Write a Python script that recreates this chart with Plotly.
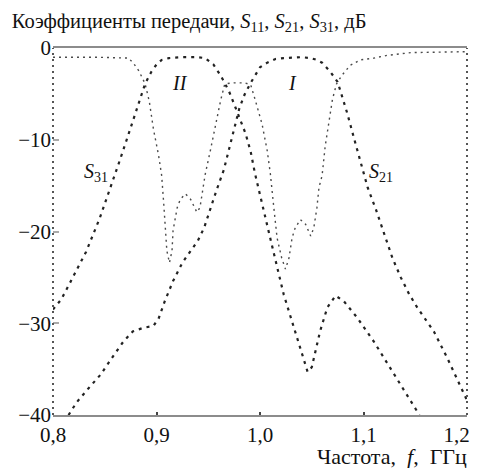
import plotly.graph_objects as go

# frequency (GHz) / level (dB)
s31_f = [0.800, 0.808, 0.815, 0.823, 0.832, 0.845, 0.855, 0.865, 0.875, 0.883,
         0.889, 0.895, 0.900, 0.905, 0.912, 0.925, 0.940, 0.947, 0.955, 0.962,
         0.966, 0.970, 0.976, 0.980, 0.986, 0.991, 0.995, 1.000, 1.007, 1.013,
         1.023, 1.033, 1.041, 1.046, 1.050, 1.058, 1.065, 1.073, 1.081, 1.094,
         1.110, 1.126, 1.142, 1.154]
s31_db = [-28.5, -27.4, -25.9, -24.2, -22.2, -18.6, -15.4, -12.1, -8.7, -5.9,
          -3.9, -2.6, -1.8, -1.3, -1.1, -1.0, -1.0, -1.1, -1.8, -3.0,
          -3.9, -4.7, -6.4, -7.6, -9.3, -11.3, -13.6, -16.0, -19.2, -22.2,
          -26.9, -30.5, -33.4, -35.3, -34.8, -30.9, -28.3, -27.0, -27.6, -29.4,
          -32.0, -34.9, -37.8, -40.0]

s21_f = [0.815, 0.823, 0.835, 0.846, 0.858, 0.868, 0.877, 0.887, 0.897, 0.902,
         0.908, 0.916, 0.925, 0.933, 0.940, 0.946, 0.952, 0.958, 0.965, 0.970,
         0.975, 0.980, 0.985, 0.991, 1.000, 1.007, 1.015, 1.023, 1.040, 1.049,
         1.055, 1.060, 1.068, 1.075, 1.078, 1.084, 1.091, 1.097, 1.104, 1.112,
         1.120, 1.128, 1.136, 1.144, 1.152, 1.160, 1.168, 1.181, 1.191, 1.200]
s21_db = [-40.0, -38.6, -37.0, -35.6, -33.6, -32.0, -30.9, -30.5, -30.3, -29.5,
          -27.6, -25.4, -23.4, -22.1, -21.0, -19.6, -17.5, -15.5, -13.3, -11.1,
          -8.8, -6.6, -5.1, -3.8, -2.1, -1.6, -1.2, -1.1, -1.0, -1.1,
          -1.3, -1.6, -2.6, -3.7, -4.8, -7.0, -9.9, -12.4, -15.2, -17.6,
          -20.3, -22.9, -25.0, -26.8, -28.3, -29.6, -30.9, -33.8, -36.3, -38.4]

s11_f = [0.800, 0.840, 0.873, 0.878, 0.883, 0.889, 0.893, 0.897, 0.902, 0.905,
         0.907, 0.9085, 0.910, 0.9125, 0.915, 0.916, 0.920, 0.923, 0.928, 0.933,
         0.939, 0.942, 0.945, 0.947, 0.952, 0.957, 0.962, 0.966, 0.975, 0.985,
         0.991, 0.9955, 1.002, 1.007, 1.010, 1.013, 1.0165, 1.021, 1.0246, 1.028,
         1.031, 1.034, 1.039, 1.044, 1.049, 1.052, 1.055, 1.057, 1.060, 1.063,
         1.067, 1.070, 1.074, 1.079, 1.087, 1.097, 1.110, 1.123, 1.146, 1.200]
s11_db = [-1.0, -1.0, -1.1, -1.7, -2.5, -3.9, -5.8, -8.8, -11.7, -13.9,
          -17.0, -19.9, -22.1, -23.4, -22.1, -19.9, -17.4, -16.5, -15.9, -16.5,
          -17.9, -17.4, -15.2, -13.8, -11.2, -8.3, -5.7, -3.9, -3.8, -3.8,
          -4.0, -5.7, -8.3, -11.2, -13.7, -17.0, -20.7, -22.9, -24.1, -22.9,
          -20.7, -19.6, -18.7, -19.2, -20.5, -19.6, -17.4, -15.2, -13.9, -10.7,
          -7.7, -5.6, -3.9, -3.0, -1.9, -1.3, -1.1, -0.8, -0.5, -0.4]

x_ticks = [0.8, 0.9, 1.0, 1.1, 1.2]
# trailing spaces nudge the last label left so it stays inside the window
x_labels = ["0,8", "0,9", "1,0", "1,1", "1,2\u00a0\u00a0\u00a0\u00a0"]
y_ticks = [0, -10, -20, -30, -40]
y_labels = ["0", "−10", "−20", "−30", "−40"]

serif = "Liberation Serif"
fsize = 20

fig = go.Figure()
fig.add_trace(go.Scatter(x=s11_f, y=s11_db, mode="lines", name="S11",
                         line=dict(color="#4a4a4a", width=1.4, dash="2px,4px")))
fig.add_trace(go.Scatter(x=s31_f, y=s31_db, mode="lines", name="S31",
                         line=dict(color="#222222", width=2.2, dash="3px,5px")))
fig.add_trace(go.Scatter(x=s21_f, y=s21_db, mode="lines", name="S21",
                         line=dict(color="#222222", width=2.2, dash="3px,5px")))

# dotted left / right frame
for xp in (0, 1):
    fig.add_shape(type="line", xref="paper", yref="paper", x0=xp, x1=xp, y0=0, y1=1,
                  line=dict(color="#555555", width=2, dash="2px,4px"))

labels = [
    (0.923, -3.8, "<i>II</i>"),
    (1.031, -3.8, "<i>I</i>"),
    (0.842, -13.6, "<i>S</i><sub>31</sub>"),
    (1.117, -13.6, "<i>S</i><sub>21</sub>"),
]
for lx, ly, txt in labels:
    fig.add_annotation(x=lx, y=ly, text=txt, showarrow=False,
                       font=dict(family=serif, size=fsize, color="#111111"))

fig.add_annotation(xref="paper", yref="paper", x=1.005, y=-0.114, xanchor="right",
                   yanchor="middle", showarrow=False,
                   text="Частота,&nbsp;&nbsp;<i>f</i>,&nbsp;&nbsp;ГГц",
                   font=dict(family=serif, size=22, color="#111111"))

# page body has an 8px margin, so the figure is a little smaller than the window
fig.update_layout(
    width=471, height=460,
    margin=dict(l=45, r=12, t=40, b=53, autoexpand=False),
    paper_bgcolor="white", plot_bgcolor="white",
    showlegend=False,
    title=dict(text="Коэффициенты передачи, <i>S</i><sub>11</sub>, <i>S</i><sub>21</sub>, "
                    "<i>S</i><sub>31</sub>, дБ",
               x=0.008, xanchor="left", xref="container",
               y=0.972, yanchor="middle", yref="container",
               font=dict(family=serif, size=20.5, color="#111111")),
    font=dict(family=serif, size=fsize, color="#111111"),
)
fig.update_xaxes(range=[0.8, 1.2], tickvals=x_ticks, ticktext=x_labels,
                 automargin=False, ticklabelstandoff=0, ticklabeloverflow="allow",
                 tickfont=dict(size=21),
                 showgrid=False, zeroline=False, showline=True, mirror=True,
                 linecolor="#8c8c8c", linewidth=2,
                 ticks="inside", ticklen=3, tickcolor="#444444", tickwidth=2)
fig.update_yaxes(range=[-40, 0], tickvals=y_ticks, ticktext=y_labels,
                 automargin=False, ticklabelstandoff=1,
                 tickfont=dict(size=21),
                 showgrid=False, zeroline=False, showline=False,
                 ticks="inside", ticklen=6, tickcolor="#aaaaaa", tickwidth=1.5)

fig.write_html("out.html")
